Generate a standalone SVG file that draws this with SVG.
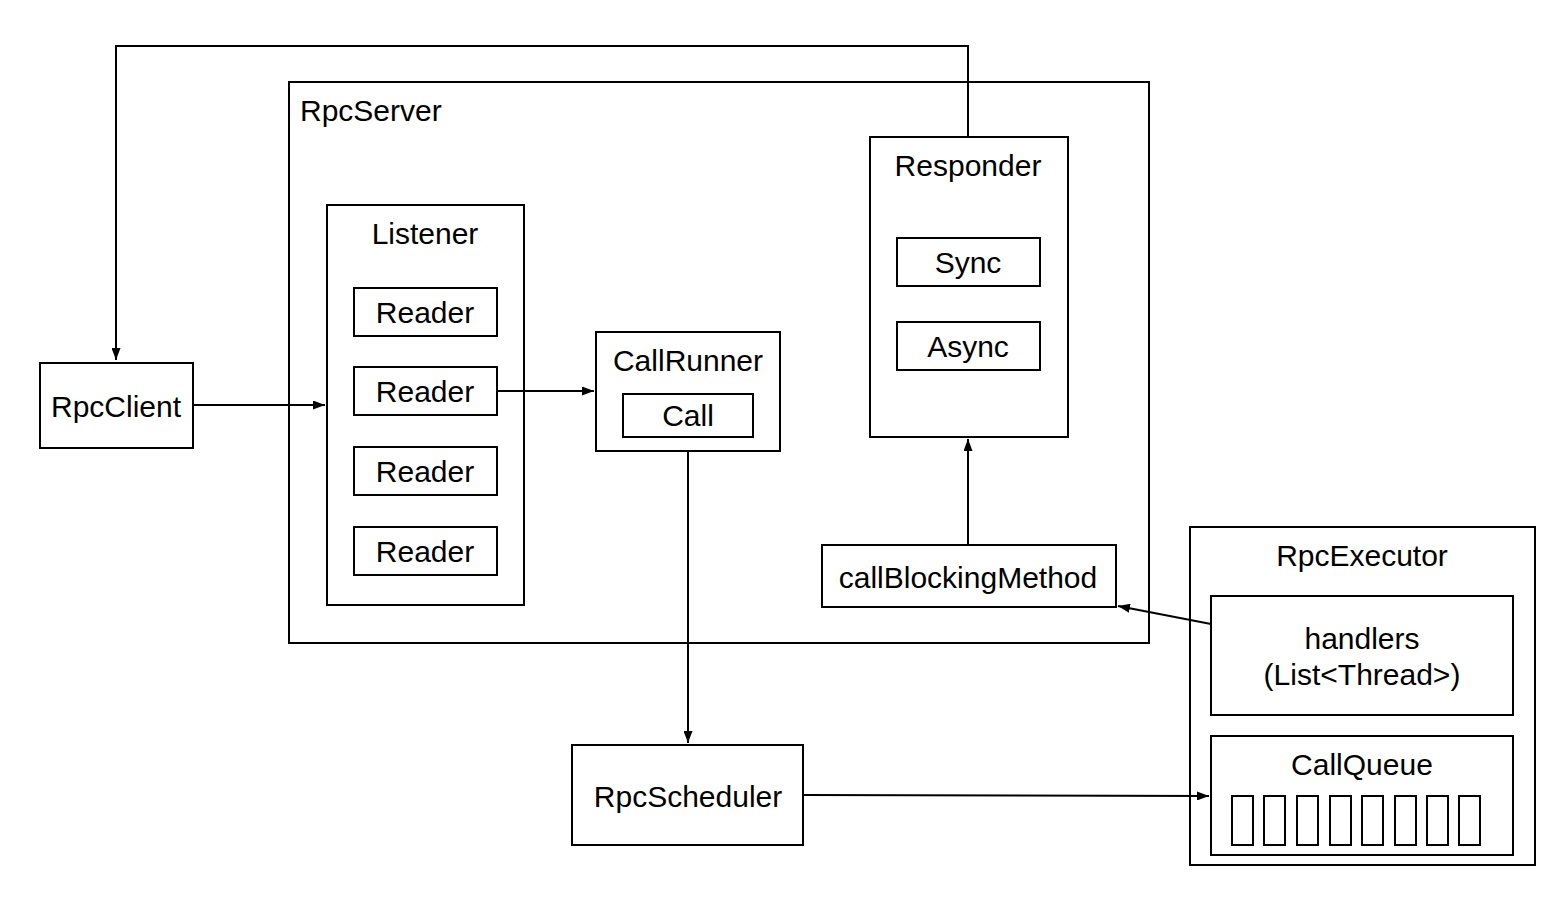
<svg xmlns="http://www.w3.org/2000/svg" width="1564" height="902" viewBox="0 0 1564 902">
<defs>
<style>
rect{fill:#fff;stroke:#000;stroke-width:2}
text{font-family:"Liberation Sans",Arial,sans-serif;font-size:30px;fill:#000;text-anchor:middle}
.c line,.c polyline{stroke:#000;stroke-width:2;fill:none}
</style>
<marker id="a" viewBox="0 0 12 9" refX="12" refY="4.5" markerWidth="12" markerHeight="9" markerUnits="userSpaceOnUse" orient="auto">
<path d="M0,0 L12,4.5 L0,9 Z" fill="#000"/>
</marker>
</defs>
<rect width="1564" height="902" style="fill:#fff;stroke:none"/>
<g id="rpcserver"><rect x="289" y="82" width="860" height="561"/><text x="300" y="121" style="text-anchor:start">RpcServer</text></g>
<g id="listener"><rect x="327" y="205" width="197" height="400"/><text x="425" y="244">Listener</text></g>
<g id="reader1"><rect x="354" y="288" width="143" height="48"/><text x="425" y="323">Reader</text></g>
<g id="reader2"><rect x="354" y="367" width="143" height="48"/><text x="425" y="402">Reader</text></g>
<g id="reader3"><rect x="354" y="447" width="143" height="48"/><text x="425" y="482">Reader</text></g>
<g id="reader4"><rect x="354" y="527" width="143" height="48"/><text x="425" y="562">Reader</text></g>
<g id="callrunner"><rect x="596" y="332" width="184" height="119"/><text x="688" y="371">CallRunner</text></g>
<g id="call"><rect x="623" y="394" width="130" height="43"/><text x="688" y="426">Call</text></g>
<g id="responder"><rect x="870" y="137" width="198" height="300"/><text x="968" y="176">Responder</text></g>
<g id="sync"><rect x="897" y="238" width="143" height="48"/><text x="968" y="273">Sync</text></g>
<g id="async"><rect x="897" y="322" width="143" height="48"/><text x="968" y="357">Async</text></g>
<g id="callblocking"><rect x="822" y="545" width="294" height="62"/><text x="968" y="588">callBlockingMethod</text></g>
<g id="rpcclient"><rect x="40" y="363" width="153" height="85"/><text x="116" y="417">RpcClient</text></g>
<g id="rpcscheduler"><rect x="572" y="745" width="231" height="100"/><text x="688" y="807">RpcScheduler</text></g>
<g id="rpcexecutor"><rect x="1190" y="527" width="345" height="338"/><text x="1362" y="566">RpcExecutor</text></g>
<g id="handlers"><rect x="1211" y="596" width="302" height="119"/><text x="1362" y="649">handlers</text><text x="1362" y="685">(List&lt;Thread&gt;)</text></g>
<g id="callqueue"><rect x="1211" y="736" width="302" height="119"/><text x="1362" y="775">CallQueue</text>
<rect x="1232" y="796" width="21" height="49"/><rect x="1264" y="796" width="21" height="49"/><rect x="1297" y="796" width="21" height="49"/><rect x="1330" y="796" width="21" height="49"/><rect x="1362" y="796" width="21" height="49"/><rect x="1395" y="796" width="21" height="49"/><rect x="1427" y="796" width="21" height="49"/><rect x="1459" y="796" width="21" height="49"/></g>
<g id="connectors" class="c">
<polyline points="968,137 968,46 116,46 116,360" marker-end="url(#a)"/>
<line x1="193" y1="405" x2="325" y2="405" marker-end="url(#a)"/>
<line x1="497" y1="391" x2="594" y2="391" marker-end="url(#a)"/>
<line x1="688" y1="451" x2="688" y2="743" marker-end="url(#a)"/>
<line x1="803" y1="795" x2="1209" y2="796" marker-end="url(#a)"/>
<line x1="968" y1="545" x2="968" y2="439" marker-end="url(#a)"/>
<line x1="1211" y1="624" x2="1118" y2="606" marker-end="url(#a)"/>
</g>
</svg>
